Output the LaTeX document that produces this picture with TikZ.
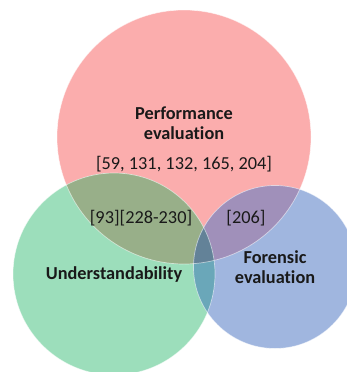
\documentclass[tikz,border=0pt]{standalone}
\usepackage{fontspec}
\setmainfont{Carlito}[Ligatures=NoCommon]
\usetikzlibrary{positioning}
\definecolor{perfRed}{RGB}{251,173,173}
\definecolor{underGreen}{RGB}{156,222,187}
\definecolor{forenBlue}{RGB}{160,182,223}
\definecolor{perfUnder}{RGB}{152,175,137}
\definecolor{perfForen}{RGB}{160,144,186}
\definecolor{underForen}{RGB}{106,167,185}
\definecolor{allThree}{RGB}{99,130,152}
\tikzset{%
  % Specifications for style of nodes:
       setbase/.style = {circle, inner sep=0pt, outer sep=0pt},
      perfset/.style = {setbase, minimum size=254pt, fill=perfRed},
     underset/.style = {setbase, minimum size=202pt, fill=underGreen},
     forenset/.style = {setbase, minimum size=163pt, fill=forenBlue},
     setlabel/.style = {align=center, font=\fontsize{18.3}{20}\selectfont\bfseries, text=black!90},
         refs/.style = {font=\fontsize{18.3}{20}\selectfont, text=black!90},
      rimline/.style = {draw=white, draw opacity=0.55, line width=0.7pt},
}

\begin{document}
\begin{tikzpicture}[x=1pt, y=-1pt]
  \useasboundingbox (0,0) rectangle (347,372);
  \node (perf)  [perfset]  at (184,137) {};
  \node (under) [underset] at (114,274) {};
  \node (foren) [forenset] at (275,267) {};

  % overlaps
  \begin{scope}
    \clip (perf.center) circle (127pt);
    \fill[perfUnder] (under.center) circle (101pt);
    \fill[perfForen] (foren.center) circle (81.5pt);
  \end{scope}
  \begin{scope}
    \clip (under.center) circle (101pt);
    \fill[underForen] (foren.center) circle (81.5pt);
    \clip (foren.center) circle (81.5pt);
    \fill[allThree] (perf.center) circle (127pt);
  \end{scope}
  \draw[rimline] (perf.center) circle (127pt);
  \draw[rimline] (under.center) circle (101pt);
  \draw[rimline] (foren.center) circle (81.5pt);

  \node (perfLabel)  [setlabel] at (184,123) {Performance\\evaluation};
  \node (perfRefs)   [refs, below=10pt of perfLabel] {[59, 131, 132, 165, 204]};
  \node (puRefs)     [refs] at (141,218) {[93][228-230]};
  \node (pfRefs)     [refs] at (246,218) {[206]};
  \node (underLabel) [setlabel] at (114,275) {Understandability};
  \node (forenLabel) [setlabel] at (275,267) {Forensic\\evaluation};
\end{tikzpicture}
\end{document}
